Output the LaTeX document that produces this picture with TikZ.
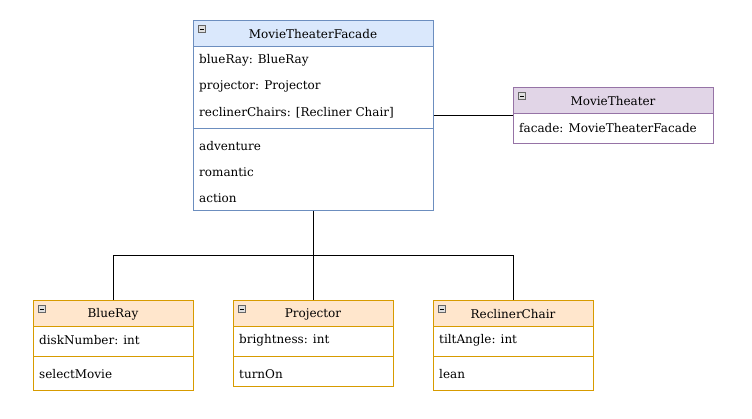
\documentclass[tikz,border=0pt]{standalone}
\usepackage{fontspec}
\setmainfont{DejaVu Serif}
\definecolor{blueF}{HTML}{DAE8FC}
\definecolor{blueS}{HTML}{6C8EBF}
\definecolor{orF}{HTML}{FFE6CC}
\definecolor{orS}{HTML}{D79B00}
\definecolor{puF}{HTML}{E1D5E7}
\definecolor{puS}{HTML}{9673A6}
\newcommand{\fs}{\fontsize{12pt}{14pt}\selectfont}
\tikzset{
  classbox/.style={draw, rectangle, anchor=north west, inner sep=0pt, line width=0.8pt},
  title/.style={anchor=center, inner sep=0pt, font=\fs, yshift=-0.8pt},
  member/.style={anchor=west, inner sep=0pt, font=\fs, yshift=-1pt},
  conn/.style={draw=black, line width=0.8pt},
  iconbox/.style={draw=gray!80!black, fill=gray!25, line width=0.6pt},
}
\newcommand{\mkicon}[2]{%
  \draw[iconbox] (#1,#2) rectangle ++(7,7);
  \draw[line width=1pt] (#1+1.8,#2+3.5) -- (#1+5.2,#2+3.5);}
\begin{document}
\begin{tikzpicture}[x=1pt,y=-1pt]
\useasboundingbox[fill=white] (0,0) rectangle (752,418);

% MovieTheaterFacade
\fill[blueF] (193,20) rectangle (433,46);
\node[classbox, draw=blueS, minimum width=240pt, minimum height=190pt] (mtf) at (193,20) {};
\draw[blueS, line width=0.8pt] (193,46) -- (433,46);
\draw[blueS, line width=0.8pt] (193,128) -- (433,128);
\mkicon{198.5}{25.5}
\node[title] (mtft) at (313,33.5) {MovieTheaterFacade};
\node[member] (a1) at (199,59.5) {blueRay: BlueRay};
\node[member] (a2) at (199,85.5) {projector: Projector};
\node[member] (a3) at (199,111.5) {reclinerChairs: [Recliner Chair]};
\node[member] (m1) at (199,145.5) {adventure};
\node[member] (m2) at (199,171.5) {romantic};
\node[member] (m3) at (199,197.5) {action};

% MovieTheater
\fill[puF] (513,87) rectangle (713,113);
\node[classbox, draw=puS, minimum width=200pt, minimum height=56pt] (mt) at (513,87) {};
\draw[puS, line width=0.8pt] (513,113) -- (713,113);
\mkicon{518.5}{92.5}
\node[title] (mtt) at (613,100.5) {MovieTheater};
\node[member] (mta) at (519,127) {facade: MovieTheaterFacade};

% BlueRay
\fill[orF] (33,300) rectangle (193,326);
\node[classbox, draw=orS, minimum width=160pt, minimum height=90pt] (br) at (33,300) {};
\draw[orS, line width=0.8pt] (33,326) -- (193,326);
\draw[orS, line width=0.8pt] (33,356) -- (193,356);
\mkicon{38.5}{305.5}
\node[title] (brt) at (113,313.5) {BlueRay};
\node[member] (bra) at (39,339.5) {diskNumber: int};
\node[member] (brm) at (39,373.5) {selectMovie};

% Projector
\fill[orF] (233,300) rectangle (393,326);
\node[classbox, draw=orS, minimum width=160pt, minimum height=86pt] (pj) at (233,300) {};
\draw[orS, line width=0.8pt] (233,326) -- (393,326);
\draw[orS, line width=0.8pt] (233,356) -- (393,356);
\mkicon{238.5}{305.5}
\node[title] (pjt) at (313,313.5) {Projector};
\node[member] (pja) at (239,339.5) {brightness: int};
\node[member] (pjm) at (239,373.5) {turnOn};

% ReclinerChair
\fill[orF] (433,300) rectangle (593,326);
\node[classbox, draw=orS, minimum width=160pt, minimum height=90pt] (rc) at (433,300) {};
\draw[orS, line width=0.8pt] (433,326) -- (593,326);
\draw[orS, line width=0.8pt] (433,356) -- (593,356);
\mkicon{438.5}{305.5}
\node[title] (rct) at (513,313.5) {ReclinerChair};
\node[member] (rca) at (439,339.5) {tiltAngle: int};
\node[member] (rcm) at (439,373.5) {lean};

% connectors
\coordinate (j) at (313.5,255);
\draw[conn] (mtf.south -| j) -- (j);
\draw[conn] (j) -| (br.north);
\draw[conn] (j) -- (pj.north -| j);
\draw[conn] (j) -| (rc.north);
\draw[conn] (mtf.east |- 0,115.5) -- (mt.west |- 0,115.5);
\end{tikzpicture}
\end{document}
